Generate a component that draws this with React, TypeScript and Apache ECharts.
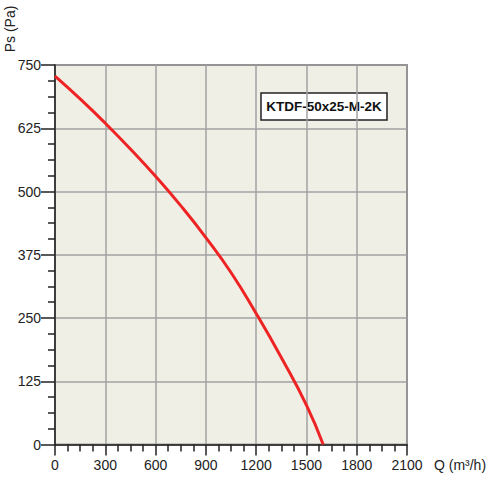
import React, { useEffect, useRef } from "react";
import * as echarts from "echarts";

const flowQ = [0, 150, 300, 450, 600, 750, 900, 1050, 1200, 1350, 1500, 1600];
const pressurePs = [728, 683, 635, 584, 530, 472, 409, 340, 259, 172, 78, 0];
const seriesName = "KTDF-50x25-M-2K";
const xTitle = "Q (m³/h)";
const yTitle = "Ps (Pa)";

export default function App() {
  const ref = useRef<HTMLDivElement>(null);
  useEffect(() => {
    if (!ref.current) return;
    const chart = echarts.init(ref.current, undefined, { renderer: "svg" });
    const font = "Liberation Sans, Arial, sans-serif";
    chart.setOption({
      animation: false,
      grid: {
        left: 55,
        right: 84,
        top: 65,
        bottom: 35.5,
        show: true,
        backgroundColor: "#f0efe6",
        borderColor: "#444",
        borderWidth: 1.5,
      },
      xAxis: {
        type: "value",
        min: 0,
        max: 2100,
        interval: 300,
        axisLine: { show: true, lineStyle: { color: "#222", width: 1.5 } },
        axisTick: { show: true, length: 11, lineStyle: { color: "#222", width: 1.5 } },
        minorTick: { show: true, splitNumber: 4, length: 7, lineStyle: { color: "#222", width: 1.5 } },
        splitLine: { show: true, lineStyle: { color: "#a2a2a2", width: 1.5 } },
        axisLabel: {
          color: "#222",
          fontSize: 14,
          fontFamily: font,
          margin: 13,
          formatter: (v: number) => String(v),
        },
      },
      yAxis: {
        type: "value",
        min: 0,
        max: 750,
        interval: 125,
        axisLine: { show: true, lineStyle: { color: "#222", width: 1.5 } },
        axisTick: { show: true, length: 14, lineStyle: { color: "#222", width: 1.5 } },
        minorTick: { show: true, splitNumber: 4, length: 7, lineStyle: { color: "#222", width: 1.5 } },
        splitLine: { show: true, lineStyle: { color: "#a2a2a2", width: 1.5 } },
        axisLabel: {
          color: "#222",
          fontSize: 14,
          fontFamily: font,
          margin: 14,
          formatter: (v: number) => String(v),
        },
      },
      series: [
        {
          name: seriesName,
          type: "line",
          smooth: true,
          symbol: "none",
          data: flowQ.map((q, i) => [q, pressurePs[i]]),
          lineStyle: { color: "#ee2424", width: 3 },
        },
      ],
      graphic: [
        {
          type: "rect",
          shape: { x: 261, y: 93, width: 126, height: 27 },
          style: { fill: "#ffffff", stroke: "#222", lineWidth: 1.5 },
        },
        {
          type: "text",
          x: 324,
          y: 106.5,
          style: {
            text: seriesName,
            fill: "#111",
            font: `bold 13.5px ${font}`,
            align: "center",
            verticalAlign: "middle",
          },
        },
        {
          type: "text",
          x: 10,
          y: 29,
          rotation: Math.PI / 2,
          style: {
            text: yTitle,
            fill: "#222",
            font: `14px ${font}`,
            align: "center",
            verticalAlign: "middle",
          },
        },
        {
          type: "text",
          x: 460,
          y: 465,
          style: {
            text: xTitle,
            fill: "#222",
            font: `14px ${font}`,
            align: "center",
            verticalAlign: "middle",
          },
        },
      ],
    });
    return () => chart.dispose();
  }, []);
  return (
    <div
      ref={ref}
      style={{ position: "absolute", left: 0, top: 0, width: 491, height: 480 }}
    />
  );
}
